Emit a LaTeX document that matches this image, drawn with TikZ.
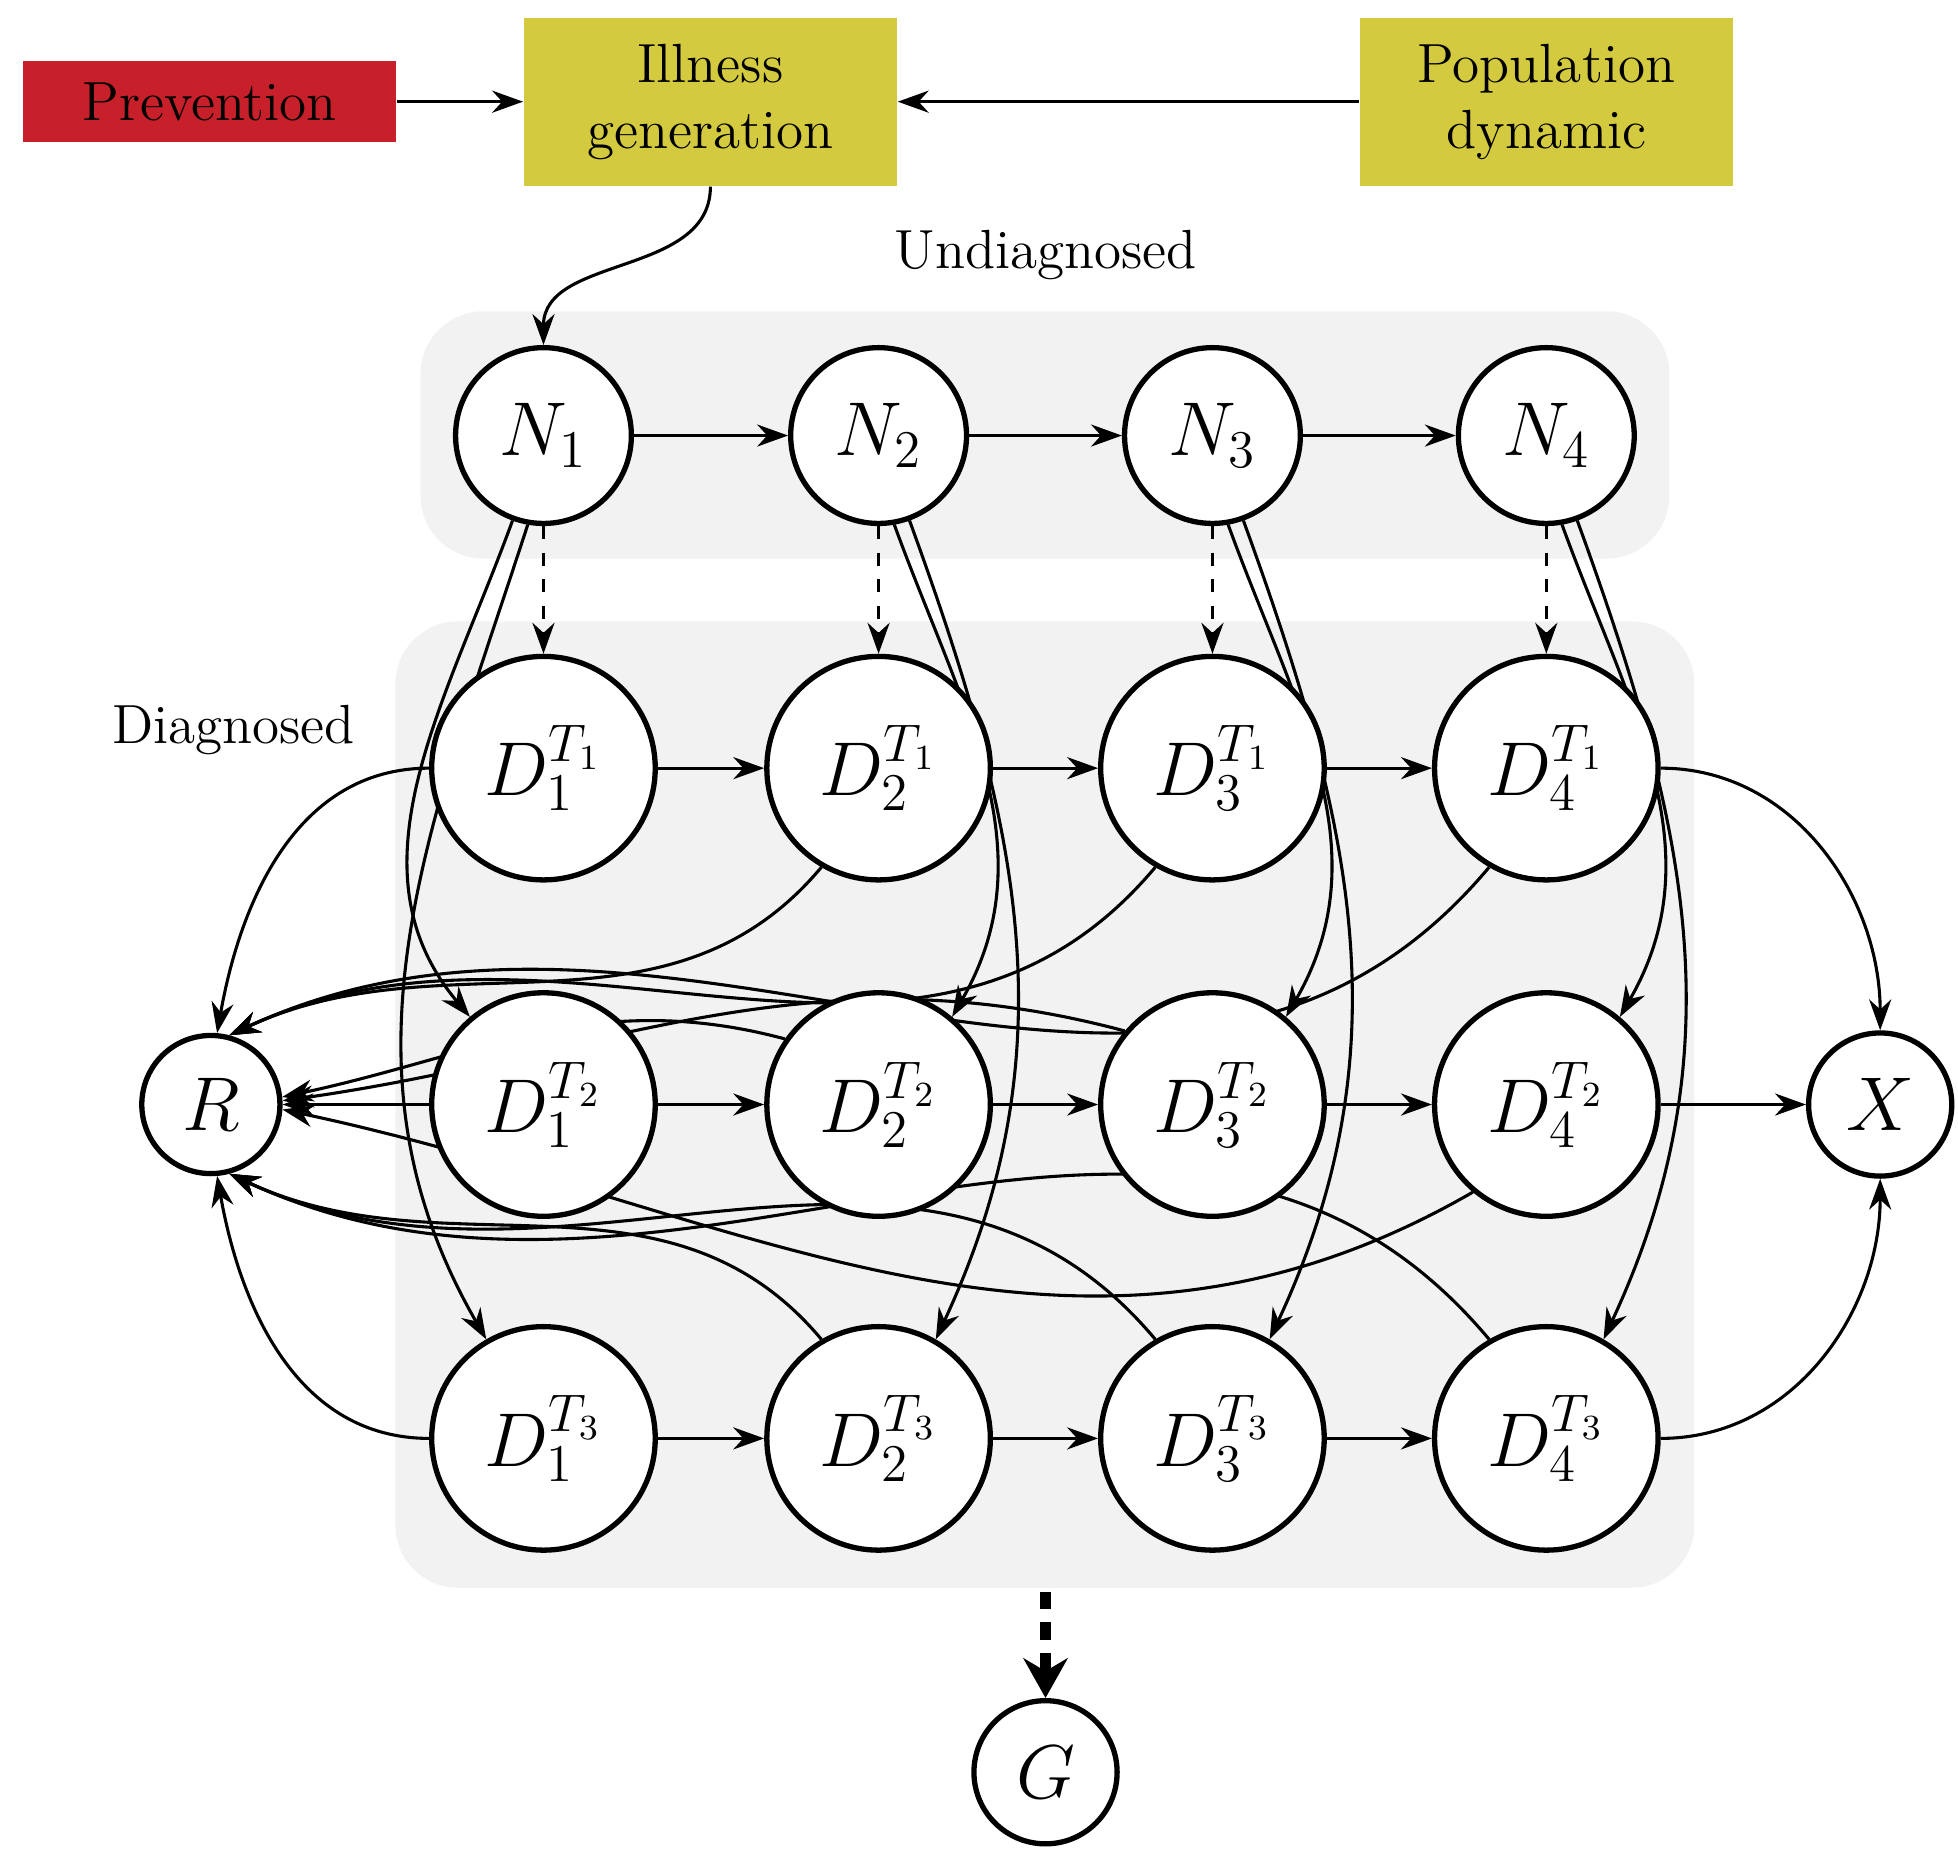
\documentclass[tikz,border=0pt]{standalone}
\usetikzlibrary{arrows.meta,positioning}
\pgfdeclarelayer{back}\pgfdeclarelayer{bg}
\pgfsetlayers{back,bg,main}
\definecolor{pred}{RGB}{200,32,42}
\definecolor{pyel}{RGB}{212,202,64}
\begin{document}
\begin{tikzpicture}[x=0.01cm,y=-0.01cm,
  st/.style={circle,draw,line width=1.2pt,fill=white,inner sep=0pt,font=\fontsize{17}{20}\selectfont},
  nn/.style={st,minimum size=1.4cm},
  dd/.style={st,minimum size=1.78cm},
  box/.style={minimum width=2.97cm,font=\fontsize{12.5}{15}\selectfont,align=center,inner sep=0pt},
  ar/.style={-{Stealth[length=7pt,width=5pt]},line width=0.7pt},
  ln/.style={line width=0.7pt}]
\useasboundingbox (0,0) rectangle (1560,1478);
\begin{pgfonlayer}{back}
\fill[gray!10,rounded corners=0.5cm] (335,248) rectangle (1330,445);
\fill[gray!10,rounded corners=0.5cm] (315,495) rectangle (1350,1265);
\end{pgfonlayer}
\node[box,fill=pred,minimum height=0.64cm] (P) at (167,81) {Prevention};
\node[box,fill=pyel,minimum height=1.34cm] (I) at (566,81) {Illness\\generation};
\node[box,fill=pyel,minimum height=1.34cm] (Pd) at (1232,81) {Population\\dynamic};
\node[font=\fontsize{12.5}{15}\selectfont] (U) at (833,203) {Undiagnosed};
\node[font=\fontsize{12.5}{15}\selectfont] (Dg) at (186,582) {Diagnosed};
\foreach \i/\x in {1/433,2/700,3/966,4/1232}{
  \node[nn] (N\i) at (\x,347) {$N_\i$};
  \node[dd] (D\i1) at (\x,612) {$D_\i^{T_1}$};
  \node[dd] (D\i2) at (\x,880) {$D_\i^{T_2}$};
  \node[dd] (D\i3) at (\x,1146) {$D_\i^{T_3}$};
}
\node[st,minimum size=1.1cm] (R) at (168,880) {$R$};
\node[st,minimum size=1.14cm] (X) at (1498,880) {$X$};
\node[st,minimum size=1.14cm] (G) at (833,1412) {$G$};
\draw[ar] (P) -- (I);
\draw[ar] (Pd) -- (I);
\draw[ar] (I.south) to[out=-90,in=90] (N1.north);
\foreach \i/\j in {1/2,2/3,3/4}{
  \draw[ar] (N\i) -- (N\j);
  \foreach \k in {1,2,3}{ \draw[ar] (D\i\k) -- (D\j\k); }
}
\foreach \i in {1,2,3,4}{ \draw[ar,dashed] (N\i) -- (D\i1); }
\begin{pgfonlayer}{bg}
\draw[ar] (N1.-110) to[out=-110,in=130] (D12.130);
\draw[ar] (N1.-100) to[out=-108,in=120] (D13.120);
\foreach \i in {2,3,4}{
  \draw[ar] (N\i.-80) to[out=-70,in=60] (D\i2.50);
  \draw[ar] (N\i.-70) to[out=-70,in=65] (D\i3.60);
}
% to R
\draw[ar] (D11.west) to[out=180,in=80] (R.85);
\foreach \i in {2,3,4}{ \draw[ar] (D\i1.-120) to[out=-130,in=25] (R.75); }
\draw[ar] (D12.west) -- (R.east);
\draw[ar] (D22.145) to[out=165,in=12] (R.6);
\draw[ar] (D32.140) to[out=165,in=8] (R.3);
\draw[ar] (D42.-130) to[out=-150,in=-12] (R.-4);
\draw[ar] (D13.west) to[out=180,in=-80] (R.-85);
\foreach \i in {2,3,4}{ \draw[ar] (D\i3.120) to[out=130,in=-25] (R.-75); }
\end{pgfonlayer}
% to X
\draw[ar] (D41.east) to[out=0,in=90] (X.north);
\draw[ar] (D42) -- (X);
\draw[ar] (D43.east) to[out=0,in=-90] (X.south);
\draw[-{Stealth[length=9pt,width=10pt]},line width=2.4pt,dash pattern=on 4pt off 3pt] (833,1268) -- (G.north);
\end{tikzpicture}
\end{document}
